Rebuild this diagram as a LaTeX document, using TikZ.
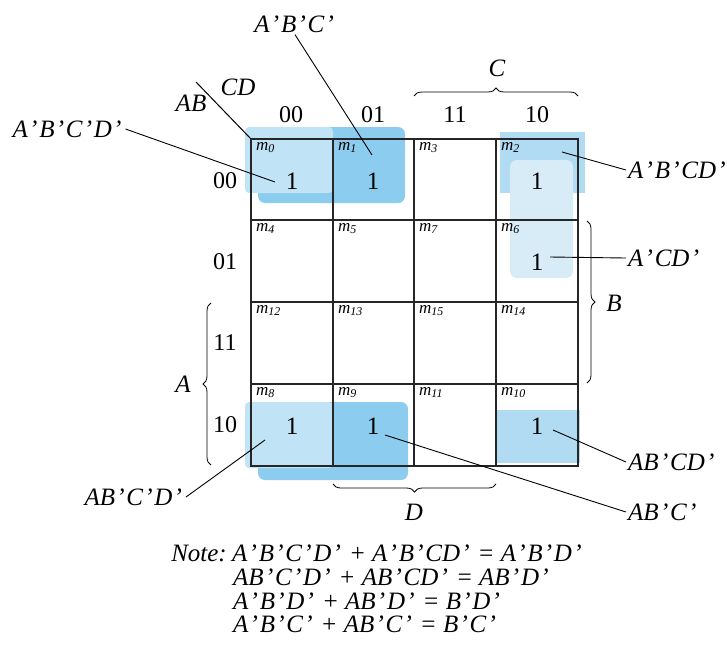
\documentclass[tikz,border=0pt]{standalone}
\usepackage{fontspec}
\setmainfont{Liberation Serif}
\usetikzlibrary{decorations.pathreplacing}
\definecolor{blueD}{RGB}{140,204,238}
\definecolor{blueL}{RGB}{192,227,246}
\definecolor{blueM}{RGB}{176,219,242}
\definecolor{blueXL}{RGB}{216,236,248}
\newcommand\prm{\kern0.05em'\kern0.07em}
\begin{document}
\begin{tikzpicture}[x=1pt,y=-1pt,
  lab/.style={font=\fontsize{25}{27}\selectfont\itshape, inner sep=2pt},
  num/.style={font=\fontsize{24}{26}\selectfont, inner sep=1pt},
  mlab/.style={font=\fontsize{17}{18}\selectfont\itshape, anchor=north west, inner sep=0pt},
  one/.style={font=\fontsize{25}{26}\selectfont, inner sep=1pt},
  leader/.style={line width=0.9pt},
  brc/.style={decorate, decoration={brace, amplitude=8pt}, line width=0.8pt},
  gridline/.style={line width=1.4pt, black!85}]
\useasboundingbox (0,0) rectangle (727,645);
% groups
\fill[blueD, rounded corners=7pt] (258,127) rectangle (405,203);
\fill[blueL, rounded corners=4pt] (245,127) rectangle (333,193);
\fill[blueM] (500,132) rectangle (585,193);
\fill[blueXL, rounded corners=7pt] (510,160) rectangle (573,278);
\fill[blueD, rounded corners=7pt] (258,402) rectangle (408,480);
\fill[blueL, rounded corners=4pt] (245,402) rectangle (333,468);
\fill[blueM] (497,410) rectangle (580,463);
% grid
\draw[gridline] (251,139) rectangle (578,466);
\foreach \x in {333,414,496} \draw[gridline] (\x,139) -- (\x,466);
\foreach \y in {220,302,384} \draw[gridline] (251,\y) -- (578,\y);
% corner diagonal
\coordinate (corner) at (251,139);
\coordinate (diag) at (196,82);
\draw[line width=1pt] (diag) -- (corner);
\node[lab] (CD) at (238,87) {CD};
\node[lab] (AB) at (191,103) {AB};
% column and row labels
\node[num] (c00) at (291,115) {00};
\node[num] (c01) at (373,115) {01};
\node[num] (c11) at (455,115) {11};
\node[num] (c10) at (537,115) {10};
\node[num] (r00) at (225,181) {00};
\node[num] (r01) at (225,262) {01};
\node[num] (r11) at (225,343) {11};
\node[num] (r10) at (225,425) {10};
% minterm labels
\foreach \x/\y/\m in {251/139/0,333/139/1,414/139/3,496/139/2,
                      251/220/4,333/220/5,414/220/7,496/220/6,
                      251/302/12,333/302/13,414/302/15,496/302/14,
                      251/384/8,333/384/9,414/384/11,496/384/10}
  \node[mlab] (m\m) at (\x+5,\y+3) {m\textsubscript{\m}};
% ones
\node[one] (o0) at (292,181) {1};
\node[one] (o1) at (373,181) {1};
\node[one] (o2) at (537,181) {1};
\node[one] (o6) at (537,262) {1};
\node[one] (o8) at (292,426) {1};
\node[one] (o9) at (373,426) {1};
\node[one] (o10) at (537,426) {1};
% braces
\coordinate (cbL) at (414,96);  \coordinate (cbR) at (578,96);
\draw[brc] (cbL) -- (cbR);
\node[lab] (C) at (497,68) {C};
\coordinate (bbT) at (587,221); \coordinate (bbB) at (587,383);
\draw[brc] (bbT) -- (bbB);
\node[lab] (B) at (614,303) {B};
\coordinate (abB) at (211,465); \coordinate (abT) at (211,303);
\draw[brc] (abB) -- (abT);
\node[lab] (A) at (183,384) {A};
\coordinate (dbR) at (496,484); \coordinate (dbL) at (333,484);
\draw[brc] (dbR) -- (dbL);
\node[lab] (D) at (414,512) {D};
% leader labels
\node[lab] (l0) at (68,129) {A\prm B\prm C\prm D\prm};
\node[lab] (l01) at (295,24) {A\prm B\prm C\prm};
\node[lab, anchor=west] (l2) at (626,170) {A\prm B\prm CD\prm};
\node[lab, anchor=west] (l26) at (626,258) {A\prm CD\prm};
\node[lab, anchor=west] (l10) at (626,462) {AB\prm CD\prm};
\node[lab, anchor=west] (l89) at (626,512) {AB\prm C\prm};
\node[lab, anchor=east] (l8) at (186,497) {AB\prm C\prm D\prm};
\coordinate (p0) at (275,182);
\coordinate (p01) at (372,155);
\coordinate (p2) at (562,152);
\coordinate (p26) at (550,257);
\coordinate (p10) at (553,430);
\coordinate (p89) at (385,435);
\coordinate (p8) at (265,440);
\draw[leader] (l0.east) -- (p0);
\draw[leader] (l01.south) -- (p01);
\draw[leader] (l2.west) -- (p2);
\draw[leader] (l26.west) -- (p26);
\draw[leader] (l10.west) -- (p10);
\draw[leader] (l89.west) -- (p89);
\draw[leader] (l8.east) -- (p8);
% note
\node[lab, anchor=east] (note) at (229,553) {Note:};
\node[lab, anchor=west] (e1) at (230,553) {A\prm B\prm C\prm D\prm{} + A\prm B\prm CD\prm{} = A\prm B\prm D\prm};
\node[lab, anchor=west] (e2) at (231,577) {AB\prm C\prm D\prm{} + AB\prm CD\prm{} = AB\prm D\prm};
\node[lab, anchor=west] (e3) at (231,601) {A\prm B\prm D\prm{} + AB\prm D\prm{} = B\prm D\prm};
\node[lab, anchor=west] (e4) at (231,624) {A\prm B\prm C\prm{} + AB\prm C\prm{} = B\prm C\prm};
\end{tikzpicture}
\end{document}
